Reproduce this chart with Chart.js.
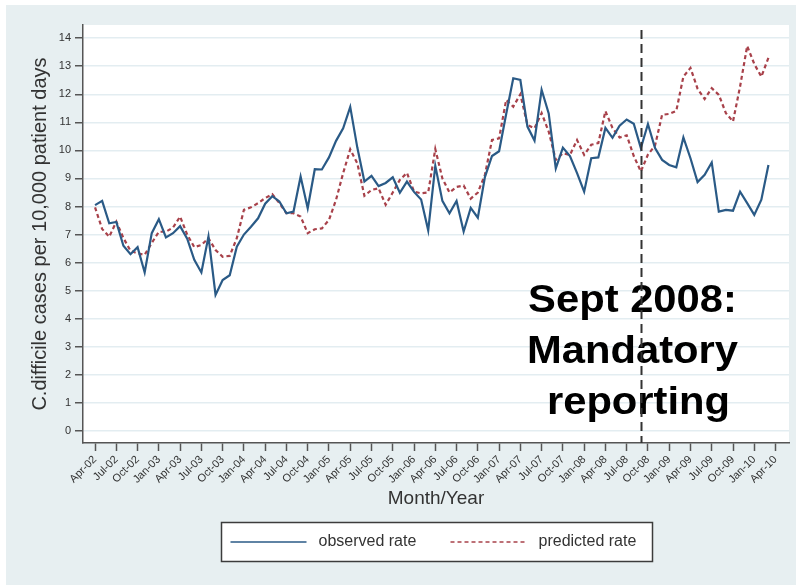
<!DOCTYPE html>
<html>
<head>
<meta charset="utf-8">
<script src="https://cdn.jsdelivr.net/npm/chart.js@4.4.0/dist/chart.umd.min.js"></script>
<style>
  html, body { margin: 0; padding: 0; background: #ffffff; }
  #wrap { width: 796px; height: 585px; }
</style>
</head>
<body>
<div id="wrap"><canvas id="rateChart" width="796" height="585"></canvas></div>
<script>
// Monthly C. difficile rate per 10,000 patient days, Apr-02 .. Mar-10
const observedRate = [
  8.05, 8.2, 7.4, 7.45, 6.6, 6.3, 6.55, 5.65, 7.05, 7.55, 6.9, 7.05,
  7.3, 6.85, 6.1, 5.65, 6.93, 4.85, 5.38, 5.55, 6.57, 7.0, 7.28, 7.58,
  8.1, 8.37, 8.18, 7.76, 7.82, 9.07, 7.94, 9.33, 9.32, 9.75, 10.34, 10.79,
  11.55, 10.1, 8.89, 9.09, 8.73, 8.84, 9.04, 8.49, 8.89, 8.52, 8.25, 7.15,
  9.45, 8.2, 7.76, 8.2, 7.11, 7.95, 7.6, 9.05, 9.8, 9.97, 11.3, 12.57,
  12.51, 10.85, 10.35, 12.16, 11.32, 9.36, 10.1, 9.8, 9.19, 8.53, 9.72, 9.75,
  10.8, 10.45, 10.88, 11.1, 10.95, 10.08, 10.94, 10.08, 9.66, 9.48, 9.4, 10.46,
  9.72, 8.87, 9.13, 9.57, 7.82, 7.88, 7.85, 8.53, 8.12, 7.7, 8.24, 9.48
];

const predictedRate = [
  7.97, 7.2, 6.92, 7.46, 6.88, 6.42, 6.33, 6.28, 6.7, 7.1, 7.1, 7.25,
  7.64, 7.0, 6.55, 6.63, 6.87, 6.45, 6.21, 6.24, 6.87, 7.88, 7.97, 8.12,
  8.3, 8.44, 8.12, 7.76, 7.76, 7.64, 7.05, 7.19, 7.22, 7.52, 8.24, 9.19,
  10.04, 9.54, 8.38, 8.59, 8.65, 8.06, 8.5, 8.95, 9.2, 8.53, 8.47, 8.5,
  10.05, 9.0, 8.5, 8.7, 8.75, 8.28, 8.5, 9.13, 10.37, 10.43, 11.8, 11.56,
  12.0, 10.91, 10.79, 11.33, 10.67, 9.66, 9.9, 9.84, 10.37, 9.84, 10.2, 10.26,
  11.4, 10.8, 10.46, 10.54, 9.8, 9.25, 9.85, 10.17, 11.27, 11.3, 11.41, 12.63,
  12.94, 12.2, 11.83, 12.22, 11.98, 11.33, 11.03, 12.28, 13.72, 13.08, 12.63, 13.3
];

// quarterly tick labels, one every 3 months starting at month 0
const tickLabels = [
  'Apr-02', 'Jul-02', 'Oct-02', 'Jan-03', 'Apr-03', 'Jul-03', 'Oct-03',
  'Jan-04', 'Apr-04', 'Jul-04', 'Oct-04', 'Jan-05', 'Apr-05', 'Jul-05',
  'Oct-05', 'Jan-06', 'Apr-06', 'Jul-06', 'Oct-06', 'Jan-07', 'Apr-07',
  'Jul-07', 'Oct-07', 'Jan-08', 'Apr-08', 'Jul-08', 'Oct-08', 'Jan-09',
  'Apr-09', 'Jul-09', 'Oct-09', 'Jan-10', 'Apr-10'
];
const yTicks = [0, 1, 2, 3, 4, 5, 6, 7, 8, 9, 10, 11, 12, 13, 14];

const reportingMonth = 77; // Sep-08
const noteLines = ['Sept 2008:', 'Mandatory', 'reporting'];

const FONT = '"Liberation Sans", Arial, Helvetica, sans-serif';
const BG = '#e7eff1';
const AXIS = '#555555';

const toPoints = arr => arr.map((v, i) => ({ x: i, y: v }));

// page background, white plot region
const backdrop = {
  id: 'backdrop',
  beforeDraw(chart) {
    const { ctx, chartArea: a } = chart;
    ctx.save();
    ctx.fillStyle = '#ffffff';
    ctx.fillRect(0, 0, chart.width, chart.height);
    ctx.fillStyle = BG;
    ctx.fillRect(6, 5, chart.width - 6, chart.height - 5);
    ctx.fillStyle = '#ffffff';
    ctx.fillRect(a.left, a.top, a.right - a.left, a.bottom - a.top);
    ctx.restore();
  }
};

// dashed marker at the start of mandatory reporting plus the note beside it
const reportingNote = {
  id: 'reportingNote',
  afterDatasetsDraw(chart) {
    const { ctx, chartArea: a } = chart;
    const x = Math.round(chart.scales.x.getPixelForValue(reportingMonth)) + 0.5;
    ctx.save();

    ctx.font = 'bold 39px ' + FONT;
    ctx.fillStyle = '#000000';
    ctx.textAlign = 'center';
    ctx.textBaseline = 'alphabetic';
    const shifts = [-9, -9, -3];
    noteLines.forEach((line, i) => {
      ctx.save();
      ctx.translate(x + shifts[i], 312 + i * 51);
      ctx.scale(1.07, 1);
      ctx.fillText(line, 0, 0);
      ctx.restore();
    });

    ctx.strokeStyle = '#333333';
    ctx.lineWidth = 2;
    ctx.setLineDash([9, 5]);
    ctx.beginPath();
    ctx.moveTo(x, a.top + 5);
    ctx.lineTo(x, a.bottom);
    ctx.stroke();
    ctx.restore();
  }
};

// framed legend under the axis title
const boxedLegend = {
  id: 'boxedLegend',
  afterDraw(chart) {
    const { ctx, chartArea: a } = chart;
    const w = 431, h = 39;
    const x0 = Math.round((a.left + a.right) / 2 - w / 2) + 0.5;
    const y0 = 522.5;
    const cy = y0 + h / 2;
    ctx.save();
    ctx.fillStyle = '#ffffff';
    ctx.fillRect(x0, y0, w, h);
    ctx.strokeStyle = '#3c3c3c';
    ctx.lineWidth = 1.5;
    ctx.strokeRect(x0, y0, w, h);
    chart.data.datasets.forEach((ds, i) => {
      const sx = x0 + 9 + i * 220;
      ctx.strokeStyle = ds.borderColor;
      ctx.lineWidth = 1.6;
      ctx.setLineDash(ds.borderDash || []);
      ctx.beginPath();
      ctx.moveTo(sx, cy);
      ctx.lineTo(sx + 76, cy);
      ctx.stroke();
      ctx.setLineDash([]);
      ctx.fillStyle = '#333333';
      ctx.font = '16px ' + FONT;
      ctx.textBaseline = 'middle';
      ctx.textAlign = 'left';
      ctx.fillText(ds.label, sx + 88, cy);
    });
    ctx.restore();
  }
};

new Chart(document.getElementById('rateChart'), {
  type: 'line',
  data: {
    datasets: [
      {
        label: 'observed rate',
        data: toPoints(observedRate),
        borderColor: '#2a5a86',
        borderWidth: 2.2,
        pointRadius: 0,
        tension: 0,
        fill: false
      },
      {
        label: 'predicted rate',
        data: toPoints(predictedRate),
        borderColor: '#a8414a',
        borderWidth: 2.2,
        borderDash: [4, 3],
        pointRadius: 0,
        tension: 0,
        fill: false
      }
    ]
  },
  options: {
    responsive: false,
    animation: false,
    devicePixelRatio: 1,
    layout: { padding: { left: 28, top: 25, right: 7, bottom: 75 } },
    plugins: {
      legend: { display: false },
      tooltip: { enabled: false }
    },
    scales: {
      x: {
        type: 'linear',
        min: -1.7,
        max: 97.9,
        afterBuildTicks: scale => {
          scale.ticks = tickLabels.map((_, i) => ({ value: i * 3 }));
        },
        afterFit: scale => { scale.height = 67; },
        ticks: {
          autoSkip: false,
          minRotation: 45,
          maxRotation: 45,
          padding: 2,
          color: '#333333',
          font: { family: FONT, size: 11 },
          callback: v => tickLabels[Math.round(v / 3)]
        },
        grid: {
          drawOnChartArea: false,
          drawTicks: true,
          tickLength: 8,
          tickColor: AXIS,
          tickWidth: 1.5
        },
        border: { display: true, color: AXIS, width: 1.5 },
        title: {
          display: true,
          text: 'Month/Year',
          color: '#333333',
          font: { family: FONT, size: 19 },
          padding: 0
        }
      },
      y: {
        type: 'linear',
        min: -0.43,
        max: 14.47,
        afterBuildTicks: scale => {
          scale.ticks = yTicks.map(v => ({ value: v }));
        },
        afterFit: scale => { scale.width = 55; },
        ticks: {
          padding: 4,
          color: '#333333',
          font: { family: FONT, size: 11 },
          callback: v => String(v)
        },
        grid: {
          color: '#e3edf1',
          lineWidth: 1.5,
          drawTicks: true,
          tickLength: 8,
          tickColor: AXIS,
          tickWidth: 1.5
        },
        border: { display: true, color: AXIS, width: 1.5 },
        title: {
          display: true,
          text: 'C.difficile cases per 10,000 patient days',
          color: '#333333',
          font: { family: FONT, size: 20 },
          padding: 0
        }
      }
    }
  },
  plugins: [backdrop, reportingNote, boxedLegend]
});
</script>
</body>
</html>
